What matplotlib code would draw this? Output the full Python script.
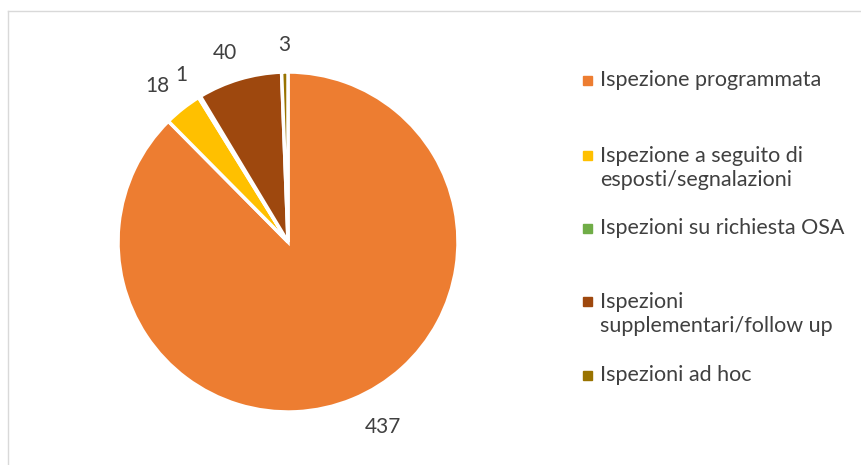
import numpy as np
import matplotlib.pyplot as plt
from matplotlib.lines import Line2D
from matplotlib.patches import Rectangle

# data
labels = ['Ispezione programmata',
          'Ispezione a seguito di\nesposti/segnalazioni',
          'Ispezioni su richiesta OSA',
          'Ispezioni\nsupplementari/follow up',
          'Ispezioni ad hoc']
values = [437, 18, 1, 40, 3]
colors = ['#ED7D31', '#FFC000', '#70AD47', '#9E480E', '#997300']

plt.rcParams['font.family'] = ['Lato', 'DejaVu Sans']
W, H = 861, 465
fig = plt.figure(figsize=(W / 100, H / 100), dpi=100)

# pie axes: centre (288, 242) px, radius 170 px
cx, cy, r = 288, 242, 170
ax = fig.add_axes([(cx - r) / W, (H - cy - r) / H, 2 * r / W, 2 * r / H])
wedges, texts = ax.pie(values, colors=colors, startangle=90, counterclock=False,
                       labels=[str(v) for v in values], labeldistance=1.17,
                       wedgeprops=dict(edgecolor='white', linewidth=2.5),
                       textprops=dict(color='#404040', fontsize=15))
for t in texts:
    t.set_ha('center')
    t.set_va('center')
# excel nudges labels a bit (px offsets converted to data units)
nudge = [(0, 0), (-8, 0), (-3, -3), (-6, -2), (0, -2)]
for t, (dx, dy) in zip(texts, nudge):
    x, y = t.get_position()
    t.set_position((x + dx / r, y + dy / r))
texts[0].set_position((0.56, -1.09))
ax.set_xlim(-1, 1)
ax.set_ylim(-1, 1)
ax.set_aspect('equal')
ax.axis('off')

# legend placed by hand (Excel style spacing)
leg_y = [80, 168, 228, 314, 375]
for lab, col, y in zip(labels, colors, leg_y):
    nlines = lab.count('\n') + 1
    first_y = y - (nlines - 1) * 13
    fig.text(600 / W, 1 - y / H, lab, color='#404040', fontsize=15.5,
             ha='left', va='center', linespacing=1.2)
    fig.patches.append(Rectangle((583 / W, 1 - (first_y + 5) / H), 9 / W, 9 / H,
                                 transform=fig.transFigure, color=col))

# chart border
fig.add_artist(Line2D([7.5 / W, 1], [1 - 11.5 / H] * 2, transform=fig.transFigure,
                      color='#D9D9D9', lw=1))
fig.add_artist(Line2D([7.5 / W] * 2, [0, 1 - 11.5 / H], transform=fig.transFigure,
                      color='#D9D9D9', lw=1))

fig.savefig('out.png', dpi=100)
